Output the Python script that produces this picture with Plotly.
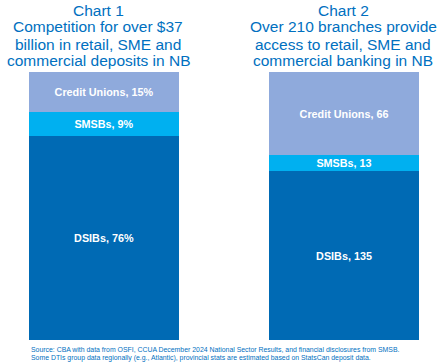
import plotly.graph_objects as go

segments = ["DSIBs", "SMSBs", "Credit Unions"]
chart1_values = [76, 9, 15]          # % of deposits
chart2_values = [135, 13, 66]        # branches
colors = ["#006AB4", "#00B0F0", "#8FAADC"]

title1_lines = ["Chart 1", "Competition for over $37", "billion in retail, SME and", "commercial deposits in NB"]
title2_lines = ["Chart 2", "Over 210 branches provide", "access to retail, SME and", "commercial banking in NB"]
footnote_lines = [
    "Source: CBA with data from OSFI, CCUA December 2024 National Sector Results, and financial disclosures from SMSB.",
    "Some DTIs group data regionally (e.g., Atlantic), provincial stats are estimated based on StatsCan deposit data.",
]

W, H = 441, 362
FONT = "Liberation Sans, Arial, sans-serif"
BLUE = "#0070C0"

fig = go.Figure()
for seg, v, c in zip(segments, chart1_values, colors):
    fig.add_trace(go.Bar(x=["c1"], y=[v], name=seg, marker=dict(color=c, line=dict(width=0)),
                         text=[f"{seg}, {v}%"], textposition="inside", insidetextanchor="middle",
                         textfont=dict(color="white", size=10.8, family=FONT, weight="bold"),
                         xaxis="x", yaxis="y", hoverinfo="skip"))
for seg, v, c in zip(segments, chart2_values, colors):
    fig.add_trace(go.Bar(x=["c2"], y=[v], name=seg, marker=dict(color=c, line=dict(width=0)),
                         text=[f"{seg}, {v}"], textposition="inside", insidetextanchor="middle",
                         textfont=dict(color="white", size=10.8, family=FONT, weight="bold"),
                         xaxis="x2", yaxis="y2", hoverinfo="skip"))

ybot = 1 - 340 / H
ytop = 1 - 72 / H
axis_common = dict(visible=False, fixedrange=True)
fig.update_layout(
    width=W, height=H,
    margin=dict(l=0, r=0, t=0, b=0),
    paper_bgcolor="white", plot_bgcolor="white",
    barmode="stack", bargap=0,
    showlegend=False,
    uniformtext=dict(mode="show", minsize=10),
    xaxis=dict(domain=[29 / W, 179 / W], anchor="y", **axis_common),
    yaxis=dict(domain=[ybot, ytop], range=[0, sum(chart1_values)], anchor="x", **axis_common),
    xaxis2=dict(domain=[269 / W, 419 / W], anchor="y2", **axis_common),
    yaxis2=dict(domain=[ybot, ytop], range=[0, sum(chart2_values)], anchor="x2", **axis_common),
)

line_y = [10, 27, 44, 61]
for lines, cx in ((title1_lines, 98), (title2_lines, 343)):
    for txt, py in zip(lines, line_y):
        fig.add_annotation(text=txt, x=cx / W, y=1 - py / H, xref="paper", yref="paper",
                           xanchor="center", yanchor="middle", showarrow=False,
                           font=dict(family=FONT, size=15.5, color=BLUE))

for txt, py in zip(footnote_lines, [349, 357.5]):
    fig.add_annotation(text=txt, x=29 / W, y=1 - py / H, xref="paper", yref="paper",
                       xanchor="left", yanchor="middle", showarrow=False,
                       font=dict(family=FONT, size=6.9, color=BLUE))

fig.write_html(
    "out.html",
    config={"displayModeBar": False},
    post_script="document.body.style.margin='0';document.body.style.padding='0';document.body.style.overflow='hidden';",
)
